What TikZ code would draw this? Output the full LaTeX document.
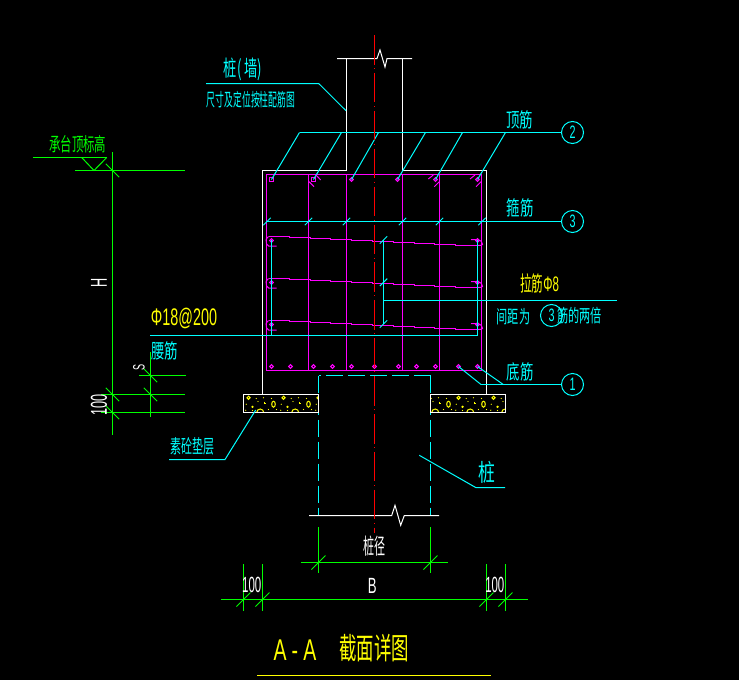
\documentclass[tikz,border=0pt]{standalone}
\usepackage{graphicx}
\usepackage{fontspec}
\setmainfont{Liberation Sans}
\newfontfamily\cjk{Noto Sans CJK SC}
\definecolor{cadcyan}{RGB}{0, 255, 255}
\definecolor{cadmag}{RGB}{255, 0, 255}
\definecolor{cadgreen}{RGB}{0, 255, 0}
\definecolor{cadred}{RGB}{255, 0, 0}
\definecolor{cadyellow}{RGB}{255, 255, 0}
\usetikzlibrary{shapes, calc}
\newcommand{\cadtext}[3]{\scalebox{#1}[1]{\fontsize{#2}{#2}\selectfont #3}}
\tikzset{
  cadlabel/.style={inner sep=0pt, font=\cjk},
  cyanline/.style={draw=cadcyan, line width=1pt},
  magline/.style={draw=cadmag, line width=1pt},
  greenline/.style={draw=cadgreen, line width=1pt},
  whiteline/.style={draw=white, line width=1pt},
  yellowline/.style={draw=cadyellow, line width=1pt},
  piledash/.style={cyanline, dash pattern=on 17pt off 5pt},
  tagcircle/.style={circle, draw=cadcyan, line width=1pt, minimum size=22pt, inner sep=0pt, text=cadcyan},
  rebar/.style={circle, draw=cadmag, line width=1pt, minimum size=3.8pt, inner sep=0pt},
  rebarsq/.style={rectangle, draw=cadmag, line width=1pt, minimum size=3.2pt, inner sep=0pt}
}
\begin{document}
\begin{tikzpicture}[x=1pt, y=-1pt]
  \fill[black] (0,0) rectangle (739,680);
  \useasboundingbox (0,0) rectangle (739,680);

  % Column and cap outline
  \draw[whiteline] (337,58.5) -- (377,58.5) -- (380,50) -- (385,67) -- (387,58.5) -- (412,58.5);
  \draw[whiteline] (346.5,58.5) -- (346.5,170.5) -- (262.5,170.5) -- (262.5,394.5);
  \draw[whiteline] (402.5,58.5) -- (402.5,170.5) -- (486.5,170.5) -- (486.5,394.5);

  % Stirrups
  \draw[magline] (266.5,174.5) rectangle (481.5,370.5);
  \foreach \sx in {308.5,346.5,402.5,439.5}
    \draw[magline] (\sx,174.5) -- (\sx,370.5);

  % Top bars
  \foreach \i/\bx/\tx/\kind in {1/271.5/299.5/rebarsq,2/313.5/341.5/rebarsq,3/351.5/378.5/rebar,4/397.5/425.5/rebar,5/435.5/462.5/rebar,6/477.5/505.5/rebar} {
    \node[\kind] (tb\i) at (\bx,179.5) {};
    \coordinate (tl\i) at (\tx,132.5);
    \draw[cyanline] (tl\i) -- (tb\i.center);
  }
  \draw[magline] (309,181.7) -- (314,186.7) (316,175) -- (320.7,180);
  \draw[magline] (428.3,179) -- (433.3,175) (434.3,186.7) -- (439.3,181.7);
  \draw[magline] (470,179) -- (475,175) (476,186.7) -- (481,181.7);

  % Bottom bars
  \foreach \i/\bx in {1/271.5,2/290.5,3/313.5,4/332.5,5/351.5,6/374.5,7/398.5,8/416.5,9/435.5,10/458.5,11/477.5}
    \node[rebar] (bb\i) at (\bx,366.5) {};

  % Side bars
  \foreach \yb in {236.5,278.5,320.5} {
    \draw[magline] (268.5,\yb) \foreach \k in {1,...,9} { -- ++(20.8,0) -- ++(0,1)} -- ++(20.8,0);
    \draw[magline] (268.5,\yb) .. controls (266,\yb+1) and (265.8,\yb+4) .. (266.2,\yb+4.3) .. controls (266,\yb+6) and (266.5,\yb+9) .. (268.7,\yb+9.5) -- (276.5,\yb+9.5);
    \draw[magline] (471,\yb+3) -- (477,\yb+3.3) .. controls (481,\yb+3.5) and (483,\yb+6) .. (482.5,\yb+8) .. controls (482,\yb+9) and (480,\yb+9) .. (477,\yb+9);
    \node[rebar] at (271.5,\yb+4) {};
    \node[rebar] at (477.5,\yb+4) {};
  }

  % Leaders with tags
  \node[tagcircle] (tag2) at (572.5,132.5) {\cadtext{0.6}{18}{2}};
  \node[tagcircle] (tag3) at (572.5,221.5) {\cadtext{0.6}{18}{3}};
  \node[tagcircle] (tag1) at (572.5,384.5) {\cadtext{0.6}{18}{1}};
  \coordinate (stirrupend) at (266,221.5);
  \coordinate (bottomknee) at (481,384.5);
  \draw[cyanline] (tl1) -- (tag2);
  \draw[cyanline] (stirrupend) -- (tag3);
  \draw[cyanline] (bottomknee) -- (tag1);
  \draw[cyanline] (bb10.center) -- (bottomknee);
  \draw[cyanline] (bb11.center) -- (503.3,384.5);
  \foreach \sx in {267,308.5,346.5,402.5,439.5,482}
    \draw[cyanline] (\sx-3.7,225.2) -- (\sx+3.7,217.8);

  % Ties
  \draw[cyanline] (271.5,240) -- (271.5,335.5);
  \draw[cyanline] (477.5,240) -- (477.5,335.5);
  \draw[cyanline] (150,335.5) -- (477.5,335.5);
  \draw[cyanline] (383.5,240) -- (383.5,323.5);
  \draw[cyanline] (383.5,300.5) -- (617,300.5);
  \foreach \ty in {240,282.3,324}
    \draw[cyanline] (379.8,\ty+3.7) -- (387.2,\ty-3.7);

  % Pile
  \coordinate (pileleft) at (318.5,375.5);
  \coordinate (pileright) at (430.5,375.5);
  \coordinate (pilelow) at (318.5,515.5);
  \coordinate (pilelowr) at (430.5,515.5);
  \draw[piledash] (pileright) -- (pileleft);
  \draw[piledash] (pileleft) -- (pilelow);
  \draw[piledash] (pileright) -- (pilelowr);
  \draw[whiteline] (309,515.5) -- (391.7,515.5) -- (395,505.3) -- (400.7,525.3) -- (404.3,515.5) -- (439,515.5);

  % Blinding pads
  \foreach \px/\off in {243.5/0,430.5/-12} {
    \begin{scope}[shift={(\px,394.5)}]
      \fill[black] (0,0) rectangle (75,18);
      \begin{scope}
        \clip (0,0) rectangle (75,18);
        \foreach \k in {0,1,2,3} {
          \pgfmathsetmacro{\dx}{\off+35*\k}
          \begin{scope}[shift={(\dx,0)}]
            \draw[yellowline] (16.7,18) circle (3.5);
            \draw[yellowline] (30,9.7) ellipse (1.8 and 3);
            \draw[yellowline] (5,3.3) circle (1.6);
            \draw[yellowline] (20.7,7) -- (20.7,9.2) -- (22.9,9.2);
            \fill[cadyellow] (9,12.3) circle (1.3);
            \foreach \dotx/\doty in {12.7/4,20/3.3,28/4,2.7/9.7,14.5/7,25/15,33/15,2.3/15.7,9/16}
              \fill[cadyellow] (\dotx,\doty) circle (0.65);
          \end{scope}
        }
      \end{scope}
      \draw[whiteline] (0,0) rectangle (75,18);
    \end{scope}
  }

  % Centre line
  \coordinate (centretop) at (374.5,35);
  \coordinate (centrelow) at (374.5,533);
  \draw[draw=cadred, line width=1pt, dash pattern=on 29.5pt off 3.5pt on 1pt off 3.9pt] (centretop) -- (centrelow);

  % Column label
  \node[cadlabel, text=cadcyan] (collabel) at (243,69) {\cadtext{0.6}{22}{桩( 墙)}};
  \node[cadlabel, text=cadcyan] (colnote) at (251,99.3) {\cadtext{0.49}{18}{尺寸及定位按柱配筋图}};
  \draw[cyanline] (206,83.5) -- (318.7,83.5) -- (346,110.7);

  % Bar labels
  \node[cadlabel, text=cadcyan] (toplabel) at (519.7,119.5) {\cadtext{0.67}{20}{顶筋}};
  \node[cadlabel, text=cadcyan] (stirlabel) at (520,208) {\cadtext{0.67}{20}{箍筋}};
  \node[cadlabel, text=cadcyan] (botlabel) at (520,371.5) {\cadtext{0.67}{20}{底筋}};
  \node[cadlabel, text=cadyellow] (tielabel) at (539.7,283.8) {\cadtext{0.55}{21}{拉筋{\rmfamily Φ8}}};
  \node[cadlabel, text=cadcyan] (tienote) at (513.5,316.5) {\cadtext{0.62}{18}{间距为}};
  \node[tagcircle] (tag3b) at (551.5,315.5) {\cadtext{0.6}{18}{3}};
  \node[cadlabel, text=cadcyan] (tienoteb) at (579.5,316) {\cadtext{0.62}{18}{筋的两倍}};
  \node[cadlabel, text=cadyellow] (sidebar) at (184,318) {\cadtext{0.6}{24}{\rmfamily Φ18@200}};
  \node[cadlabel, text=cadcyan] (sidelabel) at (164.7,351) {\cadtext{0.67}{20}{腰筋}};

  % Pad and pile labels
  \node[cadlabel, text=cadcyan] (padlabel) at (192.5,446.7) {\cadtext{0.58}{19}{素砼垫层}};
  \draw[cyanline] (169,459.5) -- (225,459.5) -- (255.7,410);
  \node[cadlabel, text=cadcyan] (pilelabel) at (486.7,472) {\cadtext{0.7}{24}{桩}};
  \draw[cyanline] (419.3,455.3) -- (475.7,487.5) -- (505,487.5);

  % Level mark
  \node[cadlabel, text=cadgreen] (levellabel) at (77.7,144.2) {\cadtext{0.6}{19}{承台顶标高}};
  \draw[greenline] (33.3,157.5) -- (106.7,157.5);
  \draw[greenline] (81.7,157.5) -- (94,170.5) -- (106.7,157.5);

  % Height dimensions
  \draw[greenline] (112.5,152.3) -- (112.5,435.3);
  \draw[greenline] (75,170.5) -- (185,170.5);
  \draw[greenline] (101,394.5) -- (185,394.5);
  \draw[greenline] (101,412.5) -- (185,412.5);
  \draw[greenline] (150.5,352.3) -- (150.5,416.7);
  \draw[greenline] (139,375.5) -- (185.7,375.5);
  \foreach \sx/\sy in {112.5/170.5,112.5/394.5,112.5/412.5,150.5/375.5,150.5/394.5}
    \draw[greenline] (\sx-6.7,\sy-6.7) -- (\sx+6.7,\sy+6.7);
  \node[cadlabel, text=white, font=\rmfamily, rotate=90] (hlabel) at (99,283.3) {\cadtext{0.55}{23}{H}};
  \node[cadlabel, text=white, font=\rmfamily, rotate=90] (slabel) at (139,367) {\cadtext{0.55}{16.5}{S}};
  \node[cadlabel, text=white, font=\rmfamily, rotate=90] (padh) at (99,405) {\cadtext{0.55}{23}{100}};

  % Width dimensions
  \draw[greenline] (301,562.5) -- (448,562.5);
  \foreach \dx in {318.5,430.5} {
    \draw[greenline] (\dx,527) -- (\dx,573.3);
    \draw[greenline] (\dx-7,569.5) -- (\dx+7,555.5);
  }
  \draw[greenline] (221,599.5) -- (527.7,599.5);
  \foreach \dx in {243.5,262.5,486.5,505.5} {
    \draw[greenline] (\dx,564) -- (\dx,610.7);
    \draw[greenline] (\dx-7,606.5) -- (\dx+7,592.5);
  }
  \node[cadlabel, text=white] (pilew) at (374.7,546) {\cadtext{0.5}{22}{桩径}};
  \node[cadlabel, text=white, font=\rmfamily] (blabel) at (372.3,585.7) {\cadtext{0.6}{22}{B}};
  \node[cadlabel, text=white, font=\rmfamily] (marginl) at (251.7,585.3) {\cadtext{0.52}{22}{100}};
  \node[cadlabel, text=white, font=\rmfamily] (marginr) at (494.8,585.3) {\cadtext{0.52}{22}{100}};

  % Title
  \node[cadlabel, text=cadyellow, font=\rmfamily] (titlea) at (295,650) {\cadtext{0.65}{30}{A\hspace{8pt}-\hspace{8pt}A}};
  \node[cadlabel, text=cadyellow] (titleb) at (374.3,648) {\cadtext{0.58}{30}{截面详图}};
  \draw[yellowline] (257,675.5) -- (491,675.5);
\end{tikzpicture}
\end{document}
